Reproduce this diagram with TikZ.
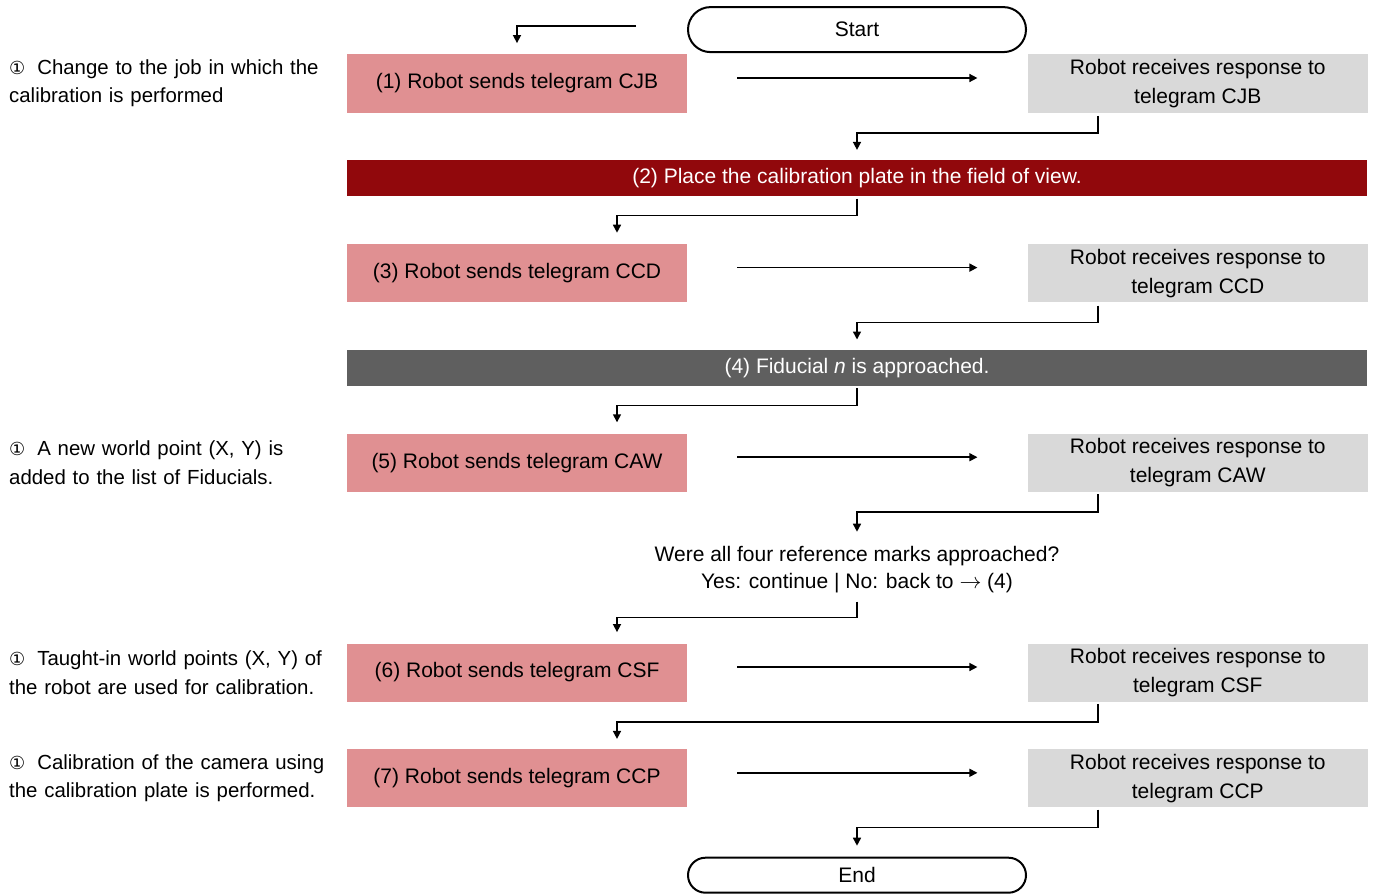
\documentclass[tikz,border=0pt]{standalone}
\usepackage{fontspec}
\setmainfont{Liberation Sans}
\newfontfamily\iconfont{DejaVu Sans}
\usepackage{xcolor}
\usepackage{tikz}
\usetikzlibrary{arrows.meta, positioning, shapes.misc}
\definecolor{rpink}{RGB}{224, 144, 146}
\definecolor{rdark}{RGB}{145, 8, 12}
\definecolor{rgrey}{RGB}{95, 95, 95}
\definecolor{rlight}{RGB}{217, 217, 217}
\newcommand{\infoicon}{{\iconfont\fontsize{9}{9}\selectfont ①}\hspace{6pt}}

\begin{document}
\begin{tikzpicture}[
      font=\fontsize{10.5}{14.5}\selectfont,
      box/.style ={fill=rpink, minimum width=170pt, minimum height=29pt,
                   inner sep=0pt, align=center},
      rbox/.style={fill=rlight, minimum width=170pt, minimum height=29pt,
                   inner sep=0pt, align=center},
      bar/.style ={minimum width=510pt, minimum height=18pt,
                   inner sep=0pt, text=white},
      term/.style={draw, line width=1pt, rounded rectangle,
                   minimum width=169pt, inner sep=0pt},
      note/.style={text width=165pt, align=left, inner sep=0pt,
                   font=\fontsize{10.2}{14.2}\selectfont},
      question/.style={align=center, font=\fontsize{10.5}{13.5}\selectfont},
      arr/.style={-{Triangle[width=4pt, length=4pt]}, line width=0.75pt},
    ]
      \useasboundingbox (-258.5pt,-405.25pt) rectangle (431pt,41.75pt);
      \node[box] (p1) at (0,0) {(1) Robot sends telegram CJB};
      \node[rbox, right=170pt of p1] (g1) {Robot receives response to\\telegram CJB};
      \node[bar, fill=rdark, below right=23.5pt and 0pt of p1.south west] (pl2)
        {(2) Place the calibration plate in the field of view.};
      \coordinate (s) at (pl2.north |- p1.north);
      \node[term, minimum height=22.5pt, above=0.5pt of s] (start) {Start};
      \node[box, below right=23.5pt and 0pt of pl2.south west] (p3) {(3) Robot sends telegram CCD};
      \node[rbox, right=170pt of p3] (g3) {Robot receives response to\\telegram CCD};
      \node[bar, fill=rgrey, below right=23.5pt and 0pt of p3.south west] (pl4)
        {(4) Fiducial \textit{n} is approached.};
      \node[box, below right=23.5pt and 0pt of pl4.south west] (p5) {(5) Robot sends telegram CAW};
      \node[rbox, right=170pt of p5] (g5) {Robot receives response to\\telegram CAW};
      \coordinate (q) at (p5.south -| pl4.south);
      \node[question, below=39pt of q, anchor=center] (dec)
        {Were all four reference marks approached?\\Yes: continue | No: back to $\rightarrow$ (4)};
      \node[box, below right=75.5pt and 0pt of p5.south west] (p6) {(6) Robot sends telegram CSF};
      \node[rbox, right=170pt of p6] (g6) {Robot receives response to\\telegram CSF};
      \node[box, below right=23.5pt and 0pt of p6.south west] (p7) {(7) Robot sends telegram CCP};
      \node[rbox, right=170pt of p7] (g7) {Robot receives response to\\telegram CCP};
      \coordinate (e) at (pl4.south |- p7.south);
      \node[term, minimum height=17.5pt, below=24.5pt of e] (stop) {End};
      \node[note, left=3.5pt of p1] (n1) {\infoicon Change to the job in which the\\calibration is performed};
      \node[note, left=3.5pt of p5] (n5) {\infoicon A new world point (X, Y) is\\added to the list of Fiducials.};
      \node[note, left=3.5pt of p6] (n6) {\infoicon Taught-in world points (X, Y) of\\the robot are used for calibration.};
      \node[note, left=3.5pt of p7] (n7) {\infoicon Calibration of the camera using\\the calibration plate is performed.};
      \draw[arr, shorten <=25.5pt, shorten >=5.5pt] ([yshift=1.75pt]start.west) -| (p1.north);
      \draw[arr, shorten <=25pt, shorten >=25pt] ([yshift=2.75pt]p1.east) -- ([yshift=2.75pt]g1.west);
      \draw[arr, shorten <=25pt, shorten >=25pt] ([yshift=2.75pt]p3.east) -- ([yshift=2.75pt]g3.west);
      \draw[arr, shorten <=25pt, shorten >=25pt] ([yshift=2.75pt]p5.east) -- ([yshift=2.75pt]g5.west);
      \draw[arr, shorten <=25pt, shorten >=25pt] ([yshift=2.75pt]p6.east) -- ([yshift=2.75pt]g6.west);
      \draw[arr, shorten <=25pt, shorten >=25pt] ([yshift=2.75pt]p7.east) -- ([yshift=2.75pt]g7.west);
      \draw[arr, shorten <=1.5pt, shorten >=5pt] ([xshift=-50pt]g1.south) -- ++(0,-10pt) -| (pl2.north);
      \draw[arr, shorten <=1pt, shorten >=5.5pt] (pl2.south) -- ++(0,-9.5pt) -| ([xshift=50pt]p3.north);
      \draw[arr, shorten <=1.5pt, shorten >=5pt] ([xshift=-50pt]g3.south) -- ++(0,-10pt) -| (pl4.north);
      \draw[arr, shorten <=1pt, shorten >=5.5pt] (pl4.south) -- ++(0,-9.5pt) -| ([xshift=50pt]p5.north);
      \draw[arr, shorten <=1pt, shorten >=4pt] ([xshift=-50pt]g5.south) -- ++(0,-10pt) -| (dec.north);
      \draw[arr, shorten <=0.5pt, shorten >=5.5pt] (dec.south) -- ++(0,-8.5pt) -| ([xshift=50pt]p6.north);
      \draw[arr, shorten <=1pt, shorten >=5pt] ([xshift=-50pt]g6.south) -- ++(0,-10pt) -| ([xshift=50pt]p7.north);
      \draw[arr, shorten <=1pt, shorten >=5.5pt] ([xshift=-50pt]g7.south) -- ++(0,-10pt) -| (stop.north);
    \end{tikzpicture}
\end{document}
